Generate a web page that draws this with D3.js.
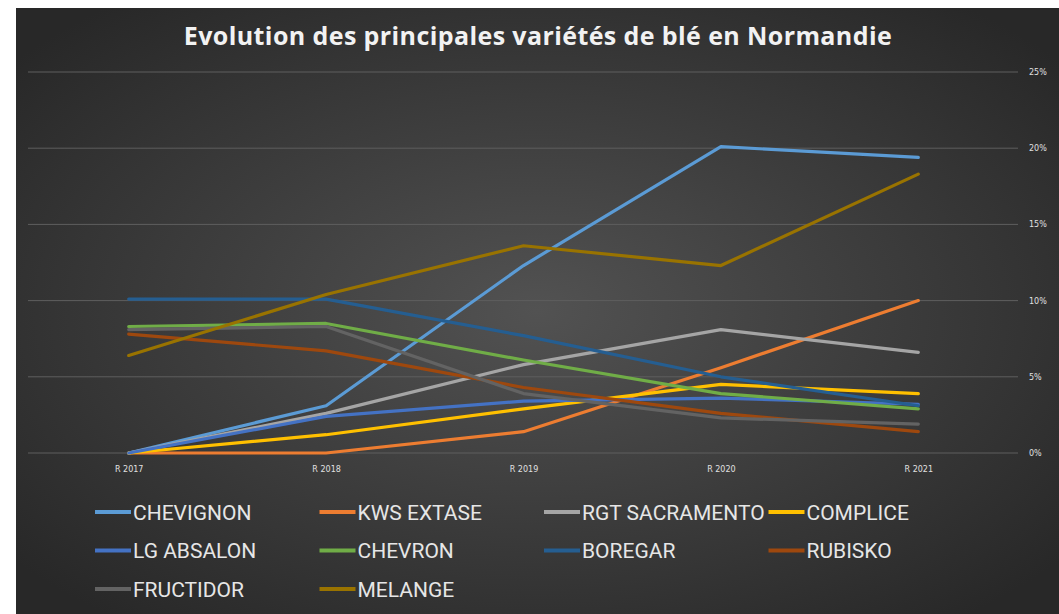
<!DOCTYPE html>
<html>
<head>
<meta charset="utf-8">
<script src="https://cdn.jsdelivr.net/npm/d3@7"></script>
<style>
  body { margin: 0; background: #fff; }
  svg { display: block; }
</style>
</head>
<body>
<svg width="1059" height="614"></svg>
<script>
var years = ["R 2017", "R 2018", "R 2019", "R 2020", "R 2021"]
var yTicks = [0, 5, 10, 15, 20, 25]

// part de chaque variete (%)
var chevignon = [0, 3.1, 12.3, 20.1, 19.4]
var kwsExtase = [0, 0, 1.4, 5.6, 10.0]
var rgtSacramento = [0, 2.6, 5.8, 8.1, 6.6]
var complice = [0, 1.2, 2.9, 4.5, 3.9]
var lgAbsalon = [0, 2.4, 3.4, 3.6, 3.2]
var chevron = [8.3, 8.5, 6.1, 3.9, 2.9]
var boregar = [10.1, 10.1, 7.7, 5.0, 3.1]
var rubisko = [7.8, 6.7, 4.3, 2.6, 1.4]
var fructidor = [8.1, 8.3, 3.9, 2.3, 1.9]
var melange = [6.4, 10.4, 13.6, 12.3, 18.3]

var names = ["CHEVIGNON", "KWS EXTASE", "RGT SACRAMENTO", "COMPLICE", "LG ABSALON",
    "CHEVRON", "BOREGAR", "RUBISKO", "FRUCTIDOR", "MELANGE"]
var values = [chevignon, kwsExtase, rgtSacramento, complice, lgAbsalon,
    chevron, boregar, rubisko, fructidor, melange]
var colors = ["#5b9bd5", "#ed7d31", "#a5a5a5", "#ffc000", "#4472c4",
    "#70ad47", "#255e91", "#9e480e", "#636363", "#997300"]

var svg = d3.select("svg")

var defs = svg.append("defs")
var grad = defs.append("radialGradient")
    .attr("id", "bg")
    .attr("cx", "50%").attr("cy", "50%").attr("r", "65%")
grad.append("stop").attr("offset", "0%").attr("stop-color", "#525252")
grad.append("stop").attr("offset", "100%").attr("stop-color", "#282828")

svg.append("rect")
    .attr("x", 16).attr("y", 8)
    .attr("width", 1043).attr("height", 606)
    .attr("fill", "url(#bg)")

svg.append("text")
    .attr("x", 538).attr("y", 45)
    .attr("text-anchor", "middle")
    .attr("fill", "#f2f2f2")
    .style("font-family", "'Open Sans', sans-serif")
    .style("font-weight", "bold")
    .style("font-size", "25px")
    .style("letter-spacing", "0.4px")
    .text("Evolution des principales variétés de blé en Normandie")

var x = d3.scalePoint()
    .domain(years)
    .range([30, 1017])
    .padding(0.5)

var y = d3.scaleLinear()
    .domain([0, 25])
    .range([453, 72])

// grille
svg.append("g")
    .selectAll("line")
    .data(yTicks)
    .join("line")
    .attr("x1", 28).attr("x2", 1018)
    .attr("y1", function (d) { return y(d) })
    .attr("y2", function (d) { return y(d) })
    .attr("stroke", "#5e5e5e")
    .attr("stroke-width", 1)

var yAxis = svg.append("g")
    .attr("transform", "translate(1025,0)")
    .call(d3.axisRight(y).tickValues(yTicks).tickSize(0).tickPadding(4)
        .tickFormat(function (d) { return d + "%" }))
yAxis.select(".domain").remove()
yAxis.selectAll("text")
    .attr("fill", "#e0e0e0")
    .style("font-family", "'DejaVu Sans', sans-serif")
    .style("font-size", "8px")

var xAxis = svg.append("g")
    .attr("transform", "translate(0,462)")
    .call(d3.axisBottom(x).tickSize(0).tickPadding(4))
xAxis.select(".domain").remove()
xAxis.selectAll("text")
    .attr("fill", "#e0e0e0")
    .style("font-family", "'DejaVu Sans', sans-serif")
    .style("font-size", "8px")

var line = d3.line()
    .x(function (d, i) { return x(years[i]) })
    .y(function (d) { return y(d) })

svg.append("g")
    .selectAll("path")
    .data(values)
    .join("path")
    .attr("fill", "none")
    .attr("stroke", function (d, i) { return colors[i] })
    .attr("stroke-width", 3.2)
    .attr("stroke-linejoin", "round")
    .attr("stroke-linecap", "round")
    .attr("d", line)

// legende
var legend = svg.append("g")
    .selectAll("g")
    .data(names)
    .join("g")
    .attr("transform", function (d, i) {
        return "translate(" + (95 + (i % 4) * 224.5) + "," + (512 + Math.floor(i / 4) * 38.5) + ")"
    })
legend.append("line")
    .attr("x1", 0).attr("x2", 36)
    .attr("stroke", function (d, i) { return colors[i] })
    .attr("stroke-width", 4)
legend.append("text")
    .attr("x", 38).attr("dy", "0.36em")
    .attr("fill", "#e6e6e6")
    .style("font-family", "'Roboto', sans-serif")
    .style("font-size", "21px")
    .text(function (d) { return d })
</script>
</body>
</html>
